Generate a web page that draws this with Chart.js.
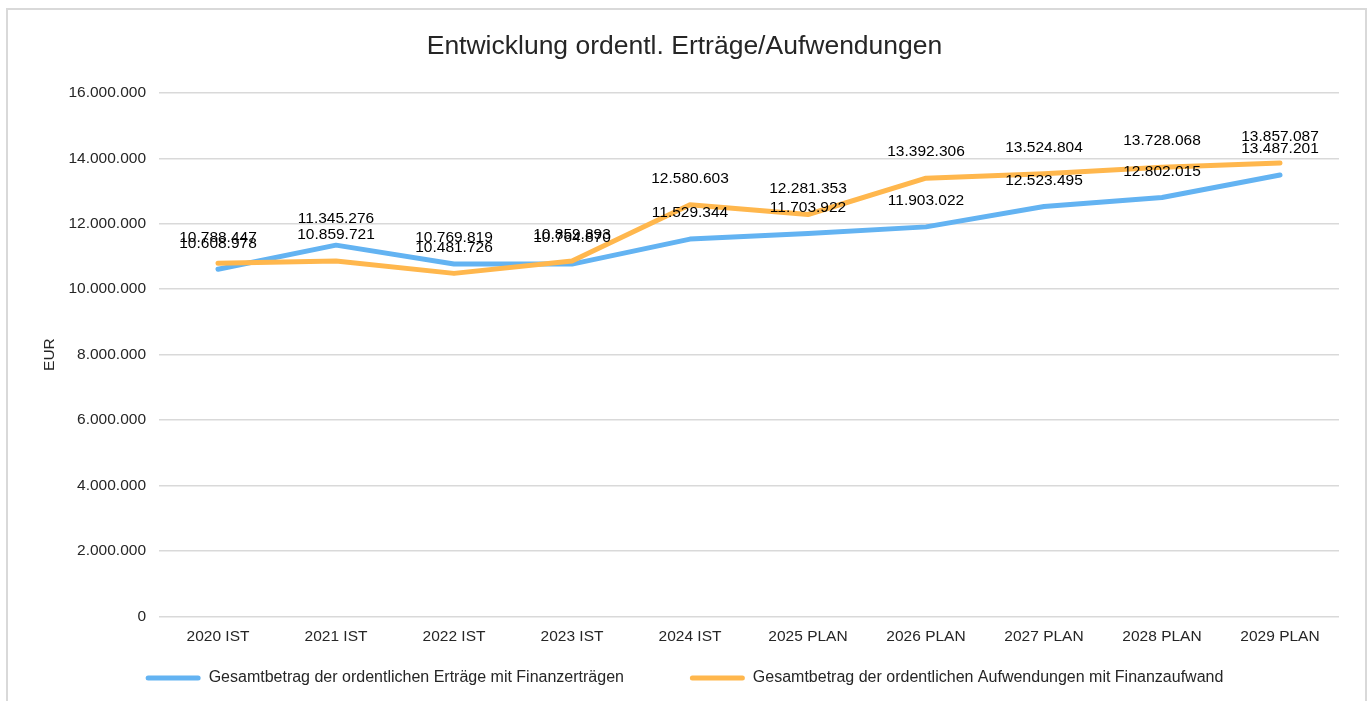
<!DOCTYPE html>
<html lang="de">
<head>
<meta charset="utf-8">
<title>Entwicklung ordentl. Erträge/Aufwendungen</title>
<script src="https://cdn.jsdelivr.net/npm/chart.js@4.4.1/dist/chart.umd.min.js"></script>
<style>
    body { margin: 0; background: #ffffff; }
    .frame { position: absolute; left: 6px; top: 8px; width: 1357px; height: 720px; border: 2px solid #d9d9d9; }
    .wrap { position: absolute; left: 0; top: 0; width: 1370px; height: 701px; }
</style>
</head>
<body>
<div class="frame"></div>
<div class="wrap"><canvas id="myChart"></canvas></div>
<script>
const years = ['2020 IST', '2021 IST', '2022 IST', '2023 IST', '2024 IST', '2025 PLAN', '2026 PLAN', '2027 PLAN', '2028 PLAN', '2029 PLAN'];
const ertraege = [10608978, 11345276, 10769819, 10764870, 11529344, 11703922, 11903022, 12523495, 12802015, 13487201];
const aufwendungen = [10788447, 10859721, 10481726, 10859893, 12580603, 12281353, 13392306, 13524804, 13728068, 13857087];
const yTicks = [0, 2000000, 4000000, 6000000, 8000000, 10000000, 12000000, 14000000, 16000000];

const fontName = '"Liberation Sans", Arial, sans-serif';
const textColor = '#262626';

// Zahlen mit Punkt als Tausendertrenner
const formatNumber = (value) => String(Math.round(value)).replace(/\B(?=(\d{3})+(?!\d))/g, '.');

// Werte über den Linienpunkten
const valueLabels = {
    id: 'valueLabels',
    afterDatasetsDraw(chart) {
        const ctx = chart.ctx;
        ctx.save();
        ctx.font = '15.5px ' + fontName;
        ctx.fillStyle = '#000000';
        ctx.textAlign = 'center';
        ctx.textBaseline = 'middle';
        chart.data.datasets.forEach((dataset, i) => {
            chart.getDatasetMeta(i).data.forEach((point, j) => {
                ctx.fillText(formatNumber(dataset.data[j]), point.x, point.y - 26);
            });
        });
        ctx.restore();
    }
};

const config = {
    type: 'line',
    data: {
        labels: years,
        datasets: [
            {
                label: 'Gesamtbetrag der ordentlichen Erträge mit Finanzerträgen',
                data: ertraege,
                borderColor: '#63b3f2',
                backgroundColor: '#63b3f2',
                order: 1
            },
            {
                label: 'Gesamtbetrag der ordentlichen Aufwendungen mit Finanzaufwand',
                data: aufwendungen,
                borderColor: '#ffb74d',
                backgroundColor: '#ffb74d',
                order: 0
            }
        ]
    },
    options: {
        responsive: true,
        maintainAspectRatio: false,
        animation: false,
        elements: {
            point: { radius: 0, hoverRadius: 0 },
            line: { borderWidth: 5, tension: 0, borderCapStyle: 'round', borderJoinStyle: 'round' }
        },
        layout: { padding: { left: 30, right: 31, top: 15, bottom: 5 } },
        plugins: {
            title: {
                display: true,
                text: 'Entwicklung ordentl. Erträge/Aufwendungen',
                color: textColor,
                font: { family: fontName, size: 26.5, weight: 'normal' },
                padding: { top: 16, bottom: 30 }
            },
            legend: {
                position: 'bottom',
                labels: {
                    color: textColor,
                    font: { family: fontName, size: 16 },
                    boxWidth: 55,
                    boxHeight: 5,
                    useBorderRadius: true,
                    borderRadius: 2.5,
                    padding: 17,
                    sort: (a, b) => a.datasetIndex - b.datasetIndex,
                    generateLabels(chart) {
                        const items = Chart.defaults.plugins.legend.labels.generateLabels(chart);
                        items.forEach(item => {
                            item.lineWidth = 0;
                            if (item.datasetIndex === 0) item.text = item.text + '           ';
                        });
                        return items;
                    }
                }
            },
            tooltip: { enabled: false }
        },
        scales: {
            x: {
                offset: true,
                afterFit: (axis) => axis.height = axis.height + 4,
                grid: { display: false },
                border: { display: false },
                ticks: { color: textColor, font: { family: fontName, size: 15.5 }, padding: 3, maxRotation: 0 }
            },
            y: {
                min: 0,
                max: 16000000,
                afterBuildTicks: (axis) => axis.ticks = yTicks.map(v => ({ value: v })),
                afterFit: (axis) => axis.width = 129,
                grid: { color: '#d9d9d9', lineWidth: 1.5, drawTicks: false },
                border: { display: false },
                title: {
                    display: true,
                    text: 'EUR',
                    color: textColor,
                    font: { family: fontName, size: 15.5 },
                    padding: { top: 10, bottom: 0 }
                },
                ticks: {
                    color: textColor,
                    font: { family: fontName, size: 15.5 },
                    padding: 13,
                    callback: (value) => formatNumber(value)
                }
            }
        }
    },
    plugins: [valueLabels]
};

const ctx = document.getElementById('myChart');
const myChart = new Chart(ctx, config);
</script>
</body>
</html>
